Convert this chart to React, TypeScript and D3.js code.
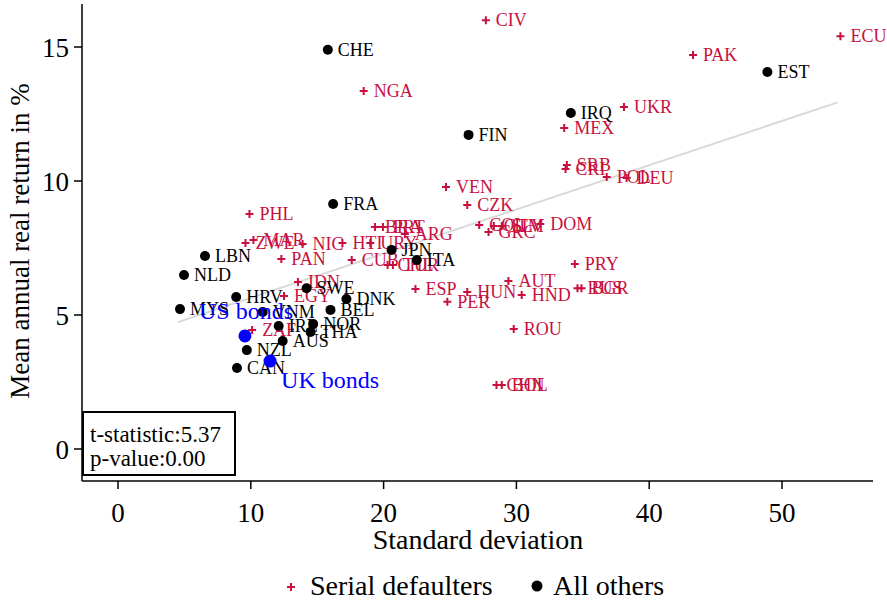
import React from "react";
import * as d3 from "d3";

const serialNames = ["CIV","ECU","PAK","NGA","UKR","MEX","SRB","CRI","POL","DEU","VEN","CZK","PHL","COL","GRC","GTM","SLV","DOM","MAR","ZWE","NIC","HTI","URY","BRA","PRT","ARG","PAN","CUB","CHL","TUR","IDN","EGY","ESP","HUN","PER","AUT","HND","PRY","RUS","BGR","ROU","CHN","BOL","ZAF"];
const serialSd = [27.7,54.4,43.3,18.5,38.1,33.6,33.8,33.7,36.8,38.3,24.7,26.3,9.9,27.2,27.9,28.3,28.9,31.8,10.2,9.6,13.9,16.9,19.0,19.35,19.95,21.6,12.3,17.6,20.3,20.7,13.55,12.5,22.4,26.3,24.8,29.4,30.4,34.4,34.6,34.9,29.8,28.5,28.9,10.1];
const serialRet = [16.0,15.4,14.7,13.36,12.76,11.98,10.6,10.45,10.15,10.11,9.78,9.1,8.77,8.36,8.1,8.32,8.32,8.4,7.8,7.69,7.65,7.69,7.69,8.28,8.28,8.02,7.09,7.05,6.87,6.87,6.23,5.71,5.97,5.86,5.49,6.27,5.75,6.9,6.0,6.0,4.48,2.39,2.39,4.44];

const otherNames = ["CHE","EST","IRQ","FIN","FRA","LBN","NLD","JPN","ITA","HRV","SWE","DNK","BEL","MYS","VNM","IRL","NOR","THA","AUS","NZL","CAN"];
const otherSd = [15.8,48.9,34.1,26.4,16.2,6.55,4.97,20.6,22.5,8.9,14.2,17.2,16.0,4.67,10.9,12.1,14.7,14.5,12.4,9.7,8.96];
const otherRet = [14.9,14.07,12.54,11.72,9.14,7.2,6.49,7.43,7.05,5.67,6.0,5.6,5.19,5.22,5.11,4.59,4.66,4.37,4.03,3.69,3.02];

const bondNames = ["US bonds","UK bonds"];
const bondSd = [9.56,11.45];
const bondRet = [4.22,3.28];

const fitX = [4.52,54.2];
const fitIntercept = 3.99;
const fitSlope = 0.165;

const xTicks = [0,10,20,30,40,50];
const yTicks = [0,5,10,15];
const statLines = ["t-statistic:5.37","p-value:0.00"];

const RED = "#c8103e";
const FONT = "\"Liberation Serif\", \"Times New Roman\", serif";

export default function App() {
  const x = d3.scaleLinear().domain([0, 50]).range([118, 782]);
  const y = d3.scaleLinear().domain([0, 15]).range([449, 47]);
  const left = 82, bottom = 481, right = 873, top = 4;
  const line = d3.line<number>().x(v => x(v)).y(v => y(fitIntercept + fitSlope * v));
  const f = { fontFamily: FONT };

  return (
    <svg width={887} height={601} style={{ position: "absolute", left: 0, top: 0, background: "#fff", fontFamily: FONT }}>
      <rect width={887} height={601} fill="#fff" />
      {/* axes */}
      <line x1={left} x2={left} y1={top} y2={bottom} stroke="#000" strokeWidth={1.5} />
      <line x1={left} x2={right} y1={bottom} y2={bottom} stroke="#000" strokeWidth={1.5} />
      {xTicks.map(t => (
        <g key={"x" + t}>
          <line x1={x(t)} x2={x(t)} y1={bottom} y2={bottom + 8} stroke="#000" strokeWidth={1.5} />
          <text x={x(t)} y={bottom + 41} textAnchor="middle" fontSize={27} style={f}>{t}</text>
        </g>
      ))}
      {yTicks.map(t => (
        <g key={"y" + t}>
          <line x1={left - 8} x2={left} y1={y(t)} y2={y(t)} stroke="#000" strokeWidth={1.5} />
          <text x={left - 13} y={y(t) + 10} textAnchor="end" fontSize={27} style={f}>{t}</text>
        </g>
      ))}
      <text x={478} y={549} textAnchor="middle" fontSize={28} style={f}>Standard deviation</text>
      <text transform={`translate(29,241) rotate(-90)`} textAnchor="middle" fontSize={27} style={f}>Mean annual real return in %</text>

      {/* fit line */}
      <path d={line(fitX) || ""} stroke="#d9d9d9" strokeWidth={2} fill="none" />

      {/* serial defaulters */}
      {serialNames.map((n, i) => {
        const cx = x(serialSd[i]), cy = y(serialRet[i]);
        return (
          <g key={"s" + n}>
            <path d={`M${cx - 4},${cy}H${cx + 4}M${cx},${cy - 4}V${cy + 4}`} stroke={RED} strokeWidth={2} />
            <text x={cx + 10} y={cy + 6} fontSize={18} fill={RED} style={f}>{n}</text>
          </g>
        );
      })}
      {/* others */}
      {otherNames.map((n, i) => {
        const cx = x(otherSd[i]), cy = y(otherRet[i]);
        return (
          <g key={"o" + n}>
            <circle cx={cx} cy={cy} r={5} fill="#000" />
            <text x={cx + 10} y={cy + 6} fontSize={18} fill="#000" style={f}>{n}</text>
          </g>
        );
      })}
      {/* bonds */}
      {bondNames.map((n, i) => {
        const cx = x(bondSd[i]), cy = y(bondRet[i]);
        const lx = i === 0 ? cx - 46 : cx + 11;
        const ly = i === 0 ? cy - 17 : cy + 27;
        return (
          <g key={"b" + n}>
            <circle cx={cx} cy={cy} r={6.5} fill="#0000ff" />
            <text x={lx} y={ly} fontSize={24} fill="#0000ff" style={f}>{n}</text>
          </g>
        );
      })}

      {/* stats box */}
      <rect x={83} y={412} width={152} height={63} fill="#fff" stroke="#000" strokeWidth={2} />
      {statLines.map((s, i) => (
        <text key={s} x={90} y={442 + i * 24} fontSize={23} style={f}>{s}</text>
      ))}

      {/* legend */}
      <path d="M287,587H295M291,583V591" stroke={RED} strokeWidth={2} />
      <text x={310} y={595} fontSize={28} style={f}>Serial defaulters</text>
      <circle cx={537} cy={586} r={5.5} fill="#000" />
      <text x={553} y={595} fontSize={28} style={f}>All others</text>
    </svg>
  );
}
